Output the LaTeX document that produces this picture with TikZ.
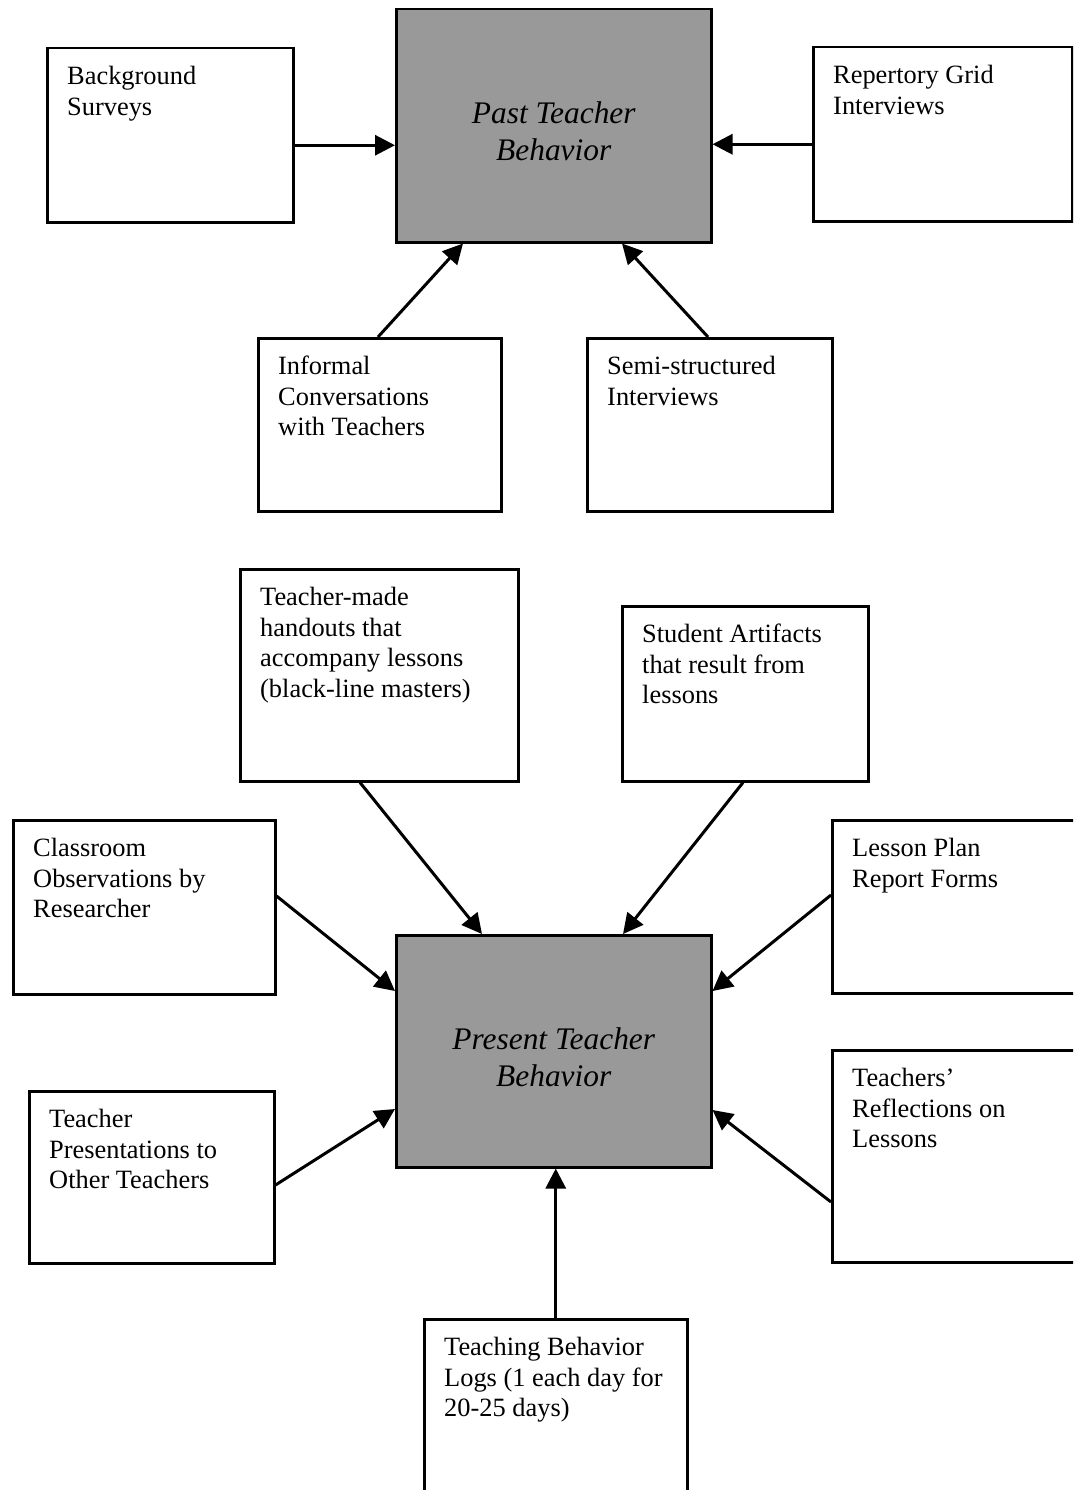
\documentclass[tikz,border=0pt]{standalone}
\usepackage{fontspec}
\setmainfont{Liberation Serif}
\usetikzlibrary{arrows.meta}
\begin{document}
\begin{tikzpicture}[x=1pt,y=-1pt,
 box/.style={draw, line width=2.5pt, anchor=north west, inner sep=0pt, fill=white},
 core/.style={box, fill=black!40},
 lbl/.style={anchor=north west, inner sep=0pt, align=left, xshift=21pt, yshift=-19pt, font=\fontsize{26.4}{30.5}\selectfont},
 ctext/.style={inner sep=0pt, align=center, yshift=-6pt, font=\fontsize{31.4}{37}\selectfont\itshape, text=black},
 arr/.style={line width=3pt, -{Triangle[length=20pt,width=20pt]}}]
\clip (0,0) rectangle (1073,1490);
\fill[white] (0,0) rectangle (1073,1490);
% top group
\node[core, minimum width=315pt, minimum height=233pt, label={[ctext]center:Past Teacher\\Behavior}] (past) at (395,8) {};
\node[box, minimum width=246pt, minimum height=174pt, label={[lbl]north west:Background\\Surveys}] (bg) at (46,47) {};
\node[box, minimum width=259pt, minimum height=174pt, label={[lbl]north west:Repertory Grid\\Interviews}] (rep) at (812,46) {};
\node[box, minimum width=243pt, minimum height=173pt, label={[lbl]north west:Informal\\Conversations\\with Teachers}] (inf) at (257,337) {};
\node[box, minimum width=245pt, minimum height=173pt, label={[lbl]north west:Semi-structured\\Interviews}] (semi) at (586,337) {};
% bottom group
\node[core, minimum width=315pt, minimum height=232pt, label={[ctext]center:Present Teacher\\Behavior}] (pres) at (395,934) {};
\node[box, minimum width=278pt, minimum height=212pt, label={[lbl]north west:Teacher-made\\handouts that\\accompany lessons\\(black-line masters)}] (hand) at (239,568) {};
\node[box, minimum width=246pt, minimum height=175pt, label={[lbl]north west:Student Artifacts\\that result from\\lessons}] (art) at (621,605) {};
\node[box, minimum width=262pt, minimum height=174pt, label={[lbl]north west:Classroom\\Observations by\\Researcher}] (cls) at (12,819) {};
\node[box, minimum width=270pt, minimum height=173pt, label={[lbl]north west:Lesson Plan\\Report Forms}] (les) at (831,819) {};
\node[box, minimum width=245pt, minimum height=172pt, label={[lbl]north west:Teacher\\Presentations to\\Other Teachers}] (tpr) at (28,1090) {};
\node[box, minimum width=270pt, minimum height=212pt, label={[lbl]north west:Teachers’\\Reflections on\\Lessons}] (refl) at (831,1049) {};
\node[box, minimum width=263pt, minimum height=210pt, label={[lbl]north west:Teaching Behavior\\Logs (1 each day for\\20-25 days)}] (logs) at (423,1318) {};
% connectors
\draw[arr] ([yshift=-10pt]bg.east) -- ([yshift=-10pt]bg.east -| past.west);
\draw[arr] ([yshift=-10pt]rep.west) -- ([yshift=-10pt]rep.west -| past.east);
\draw[arr] ([xshift=121pt]inf.north west) -- ([xshift=68pt]past.south west);
\draw[arr] ([xshift=122pt]semi.north west) -- ([xshift=227pt]past.south west);
\draw[arr] ([xshift=121pt]hand.south west) -- ([xshift=87pt]pres.north west);
\draw[arr] ([xshift=122pt]art.south west) -- ([xshift=228pt]pres.north west);
\draw[arr] ([yshift=-77pt]cls.north east) -- ([yshift=-57pt]pres.north west);
\draw[arr] ([yshift=-76pt]les.north west) -- ([yshift=-57pt]pres.north east);
\draw[arr] ([yshift=-95pt]tpr.north east) -- ([yshift=-175pt]pres.north west);
\draw[arr] ([yshift=-153pt]refl.north west) -- ([yshift=-176pt]pres.north east);
\draw[arr] (logs.north) -- (logs.north |- pres.south);
\end{tikzpicture}
\end{document}
